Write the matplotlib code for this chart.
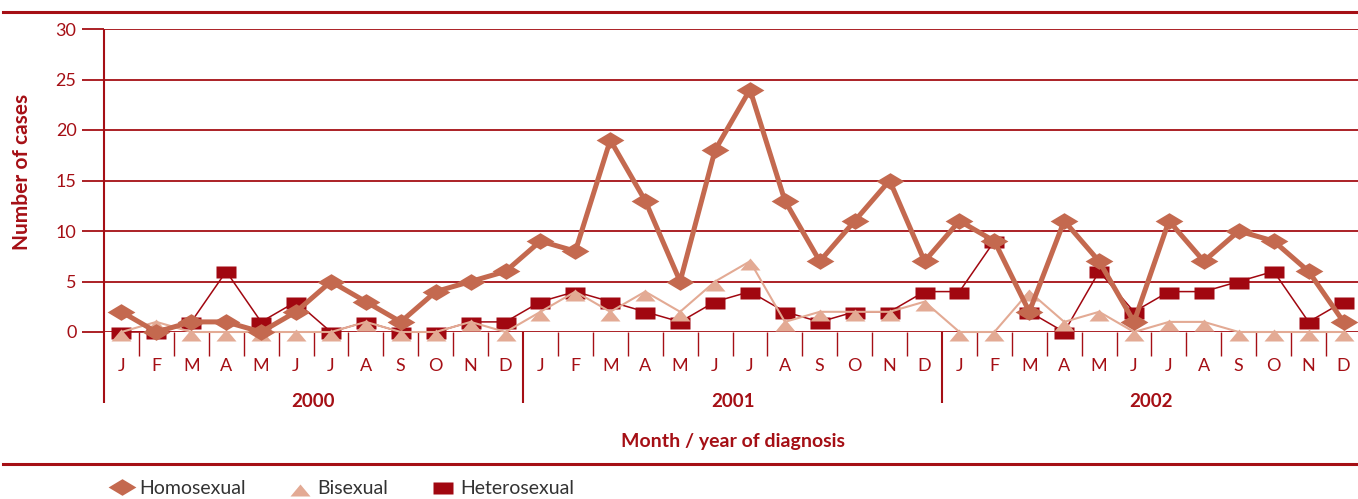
import numpy as np
import matplotlib
matplotlib.use('Agg')
import matplotlib.pyplot as plt
from matplotlib.lines import Line2D
from matplotlib.path import Path

plt.rcParams['font.family'] = ['Lato', 'DejaVu Sans']

# data: cases per month, Jan 2000 - Dec 2002
months = ['J', 'F', 'M', 'A', 'M', 'J', 'J', 'A', 'S', 'O', 'N', 'D']
years = ['2000', '2001', '2002']
homosexual = [2, 0, 1, 1, 0, 2, 5, 3, 1, 4, 5, 6,
              9, 8, 19, 13, 5, 18, 24, 13, 7, 11, 15, 7,
              11, 9, 2, 11, 7, 1, 11, 7, 10, 9, 6, 1]
bisexual = [0, 1, 0, 0, 0, 0, 0, 1, 0, 0, 1, 0,
            2, 4, 2, 4, 2, 5, 7, 1, 2, 2, 2, 3,
            0, 0, 4, 1, 2, 0, 1, 1, 0, 0, 0, 0]
heterosexual = [0, 0, 1, 6, 1, 3, 0, 1, 0, 0, 1, 1,
                3, 4, 3, 2, 1, 3, 4, 2, 1, 2, 2, 4,
                4, 9, 2, 0, 6, 2, 4, 4, 5, 6, 1, 3]
yticks = [0, 5, 10, 15, 20, 25, 30]

RED = '#A50F15'
C_HOMO = '#C4694F'
C_BI = '#E3AA94'
C_HET = '#A10710'
GREY = '#333333'

# flattened marker shapes like the original
diamond = Path([(-1, 0), (0, 0.6), (1, 0), (0, -0.6), (-1, 0)], closed=True)
triangle = Path([(-1, -0.9), (1, -0.9), (0, 0.3), (-1, -0.9)], closed=True)
rect = Path([(-1, -0.7), (1, -0.7), (1, 0.5), (-1, 0.5), (-1, -0.7)], closed=True)

W, H = 1358, 499
fig = plt.figure(figsize=(W / 100, H / 100), dpi=100, facecolor='white')
ax = fig.add_axes([104 / W, (H - 332) / H, (1361 - 104) / W, 303 / H])

n = len(homosexual)
x = np.arange(n)

ax.plot(x, heterosexual, color=C_HET, lw=1.1, marker=rect, ms=14.4,
        mec='none', clip_on=False, zorder=3)
ax.plot(x, bisexual, color=C_BI, lw=1.5, marker=triangle, ms=14.4,
        mec='none', clip_on=False, zorder=4)
ax.plot(x, homosexual, color=C_HOMO, lw=3.6, marker=diamond, ms=20,
        mec='none', clip_on=False, zorder=5)

ax.set_xlim(-0.5, n - 0.5)
ax.set_ylim(0, 30)
ax.set_yticks(yticks)
ax.yaxis.grid(True, color=RED, lw=1.3)
ax.set_axisbelow(True)
for s in ['top', 'right', 'bottom', 'left']:
    ax.spines[s].set_visible(False)
ax.tick_params(axis='y', length=15.8, width=1.3, color=RED, labelcolor=RED,
               labelsize=13, pad=4)
ax.set_xticks(x, months * len(years))
ax.tick_params(axis='x', length=0, pad=19, labelcolor=RED, labelsize=13)

# separators under the axis
trans = ax.get_xaxis_transform()
month_bounds = [i - 0.5 for i in range(1, n) if i % 12 != 0]
ax.vlines(month_bounds, -0.079, 0, color=RED, lw=1, transform=trans, clip_on=False)
ax.vlines([11.5, 23.5], -0.234, 0, color=RED, lw=1.5, transform=trans, clip_on=False)
ax.vlines([-0.5], -0.234, 1, color=RED, lw=1.5, transform=trans, clip_on=False)

for i, yr in enumerate(years):
    ax.text(i * 12 + 5.5, -0.231, yr, transform=trans, ha='center', va='center',
            color=RED, fontsize=13.5, fontweight='bold')

fig.text(22 / W, 1 - 172 / H, 'Number of cases', rotation=90, ha='center',
         va='center', color=RED, fontsize=15, fontweight='bold')
fig.text(733 / W, 1 - 442 / H, 'Month / year of diagnosis', ha='center',
         va='center', color=RED, fontsize=14, fontweight='bold')

# horizontal rules
for yy in [12, 464]:
    fig.add_artist(Line2D([3 / W, 1], [1 - yy / H] * 2, color=RED, lw=2.2))

handles = [
    Line2D([], [], ls='none', marker=diamond, ms=20, color=C_HOMO, mec='none'),
    Line2D([], [], ls='none', marker=triangle, ms=14.4, color=C_BI, mec='none'),
    Line2D([], [], ls='none', marker=rect, ms=14.4, color=C_HET, mec='none'),
]
leg = fig.legend(handles, ['Homosexual', 'Bisexual', 'Heterosexual'],
                 loc='center left', bbox_to_anchor=(106 / W, 1 - 488 / H),
                 ncol=3, frameon=False, fontsize=14, handlelength=1.6,
                 handletextpad=0.1, columnspacing=2.0, borderpad=0,
                 borderaxespad=0)
for t in leg.get_texts():
    t.set_color(GREY)

fig.savefig('out.png', dpi=100, facecolor='white')
